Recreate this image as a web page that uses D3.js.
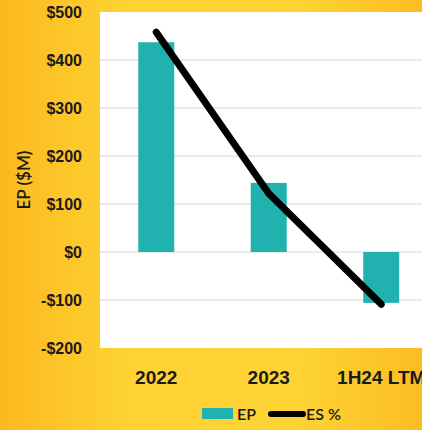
<!DOCTYPE html>
<html>
<head>
<meta charset="utf-8">
<script src="https://cdn.jsdelivr.net/npm/d3@7"></script>
<style>
  html, body { margin: 0; padding: 0; background: #fff; }
  svg { display: block; font-family: Lato, "Open Sans", sans-serif; }
</style>
</head>
<body>
<svg id="chart"></svg>
<script>
// data
var categories = ['2022', '2023', '1H24 LTM']
var epValues = [437, 144, -106]        // EP ($M), bars
var esValues = [9.4, 4.6, 1.3]         // ES %, line on a hidden second scale
var yTicks = [-200, -100, 0, 100, 200, 300, 400, 500]

var W = 428, H = 430
var plot = {left: 100, right: 422, top: 12, bottom: 348}

var svg = d3.select('#chart')
    .attr('width', W)
    .attr('height', H)

// yellow background gradient
var defs = svg.append('defs')
var grad = defs.append('linearGradient')
    .attr('id', 'bg')
    .attr('x1', '0%').attr('x2', '100%')
    .attr('y1', '0%').attr('y2', '0%')
grad.append('stop').attr('offset', '0%').attr('stop-color', '#fbb91f')
grad.append('stop').attr('offset', '30%').attr('stop-color', '#fed233')
grad.append('stop').attr('offset', '70%').attr('stop-color', '#fed335')
grad.append('stop').attr('offset', '100%').attr('stop-color', '#fbbd22')

svg.append('rect')
    .attr('width', plot.right).attr('height', H)
    .attr('fill', 'url(#bg)')

defs.append('clipPath').attr('id', 'clip')
  .append('rect')
    .attr('x', plot.left).attr('y', plot.top)
    .attr('width', plot.right - plot.left)
    .attr('height', plot.bottom - plot.top)

// plot area
svg.append('rect')
    .attr('x', plot.left).attr('y', plot.top)
    .attr('width', plot.right - plot.left)
    .attr('height', plot.bottom - plot.top)
    .attr('fill', '#fff')

// scales
var x = d3.scaleBand()
    .domain(categories)
    .range([plot.left, plot.left + 337.5])
    .paddingInner(0.68)
    .paddingOuter(0.34)

var y = d3.scaleLinear()
    .domain([-200, 500])
    .range([plot.bottom, plot.top])

var y2 = d3.scaleLinear()
    .domain([0, 10])
    .range([plot.bottom, plot.top])

var g = svg.append('g').attr('clip-path', 'url(#clip)')

// gridlines
g.selectAll('.grid')
    .data(yTicks.slice(1, -1))
  .enter().append('line')
    .attr('x1', plot.left).attr('x2', plot.right)
    .attr('y1', function (d) { return y(d) })
    .attr('y2', function (d) { return y(d) })
    .attr('stroke', '#e3e3e3')
    .attr('stroke-width', 1.5)

// bars
g.selectAll('.bar')
    .data(epValues)
  .enter().append('rect')
    .attr('class', 'bar')
    .attr('x', function (d, i) { return x(categories[i]) })
    .attr('width', x.bandwidth())
    .attr('y', function (d) { return y(Math.max(0, d)) })
    .attr('height', function (d) { return Math.abs(y(d) - y(0)) })
    .attr('fill', '#21b1ae')

// ES % line
var line = d3.line()
    .x(function (d, i) { return x(categories[i]) + x.bandwidth() / 2 })
    .y(function (d) { return y2(d) })

svg.append('path')
    .datum(esValues)
    .attr('d', line)
    .attr('fill', 'none')
    .attr('stroke', '#000')
    .attr('stroke-width', 7)
    .attr('stroke-linecap', 'round')
    .attr('stroke-linejoin', 'round')

// y axis
var yAxis = svg.append('g')
    .attr('transform', 'translate(82,0)')
    .call(d3.axisLeft(y).tickValues(yTicks).tickSize(0).tickPadding(0)
      .tickFormat(function (d) { return (d < 0 ? '-$' : '$') + Math.abs(d) }))
yAxis.select('.domain').remove()
yAxis.selectAll('text')
    .attr('fill', '#1a1a1a')
    .style('font-size', '16px')
    .style('font-weight', 700)

svg.append('text')
    .attr('transform', 'translate(30,180) rotate(-90)')
    .attr('text-anchor', 'middle')
    .attr('fill', '#1a1a1a')
    .style('font-size', '17px')
    .style('font-weight', 600)
    .text('EP ($M)')

// x axis
var xAxis = svg.append('g')
    .attr('transform', 'translate(0,' + plot.bottom + ')')
    .call(d3.axisBottom(x).tickSize(0).tickPadding(0))
xAxis.select('.domain').remove()
xAxis.selectAll('text')
    .attr('y', 36)
    .attr('dy', 0)
    .attr('fill', '#1a1a1a')
    .style('font-size', '19px')
    .style('font-weight', 700)

// legend
var legend = svg.append('g')
legend.append('rect')
    .attr('x', 202).attr('y', 408)
    .attr('width', 31).attr('height', 11)
    .attr('fill', '#21b1ae')
legend.append('text')
    .attr('x', 237).attr('y', 420)
    .attr('fill', '#1a1a1a')
    .style('font-size', '16px')
    .style('font-weight', 600)
    .text('EP')
legend.append('line')
    .attr('x1', 271).attr('x2', 303)
    .attr('y1', 414).attr('y2', 414)
    .attr('stroke', '#000')
    .attr('stroke-width', 6)
    .attr('stroke-linecap', 'round')
legend.append('text')
    .attr('x', 306).attr('y', 420)
    .attr('fill', '#1a1a1a')
    .style('font-size', '16px')
    .style('font-weight', 600)
    .text('ES %')

// the picture is cut off at the right edge
svg.append('rect')
    .attr('x', plot.right).attr('y', 0)
    .attr('width', W - plot.right).attr('height', H)
    .attr('fill', '#fff')
</script>
</body>
</html>
